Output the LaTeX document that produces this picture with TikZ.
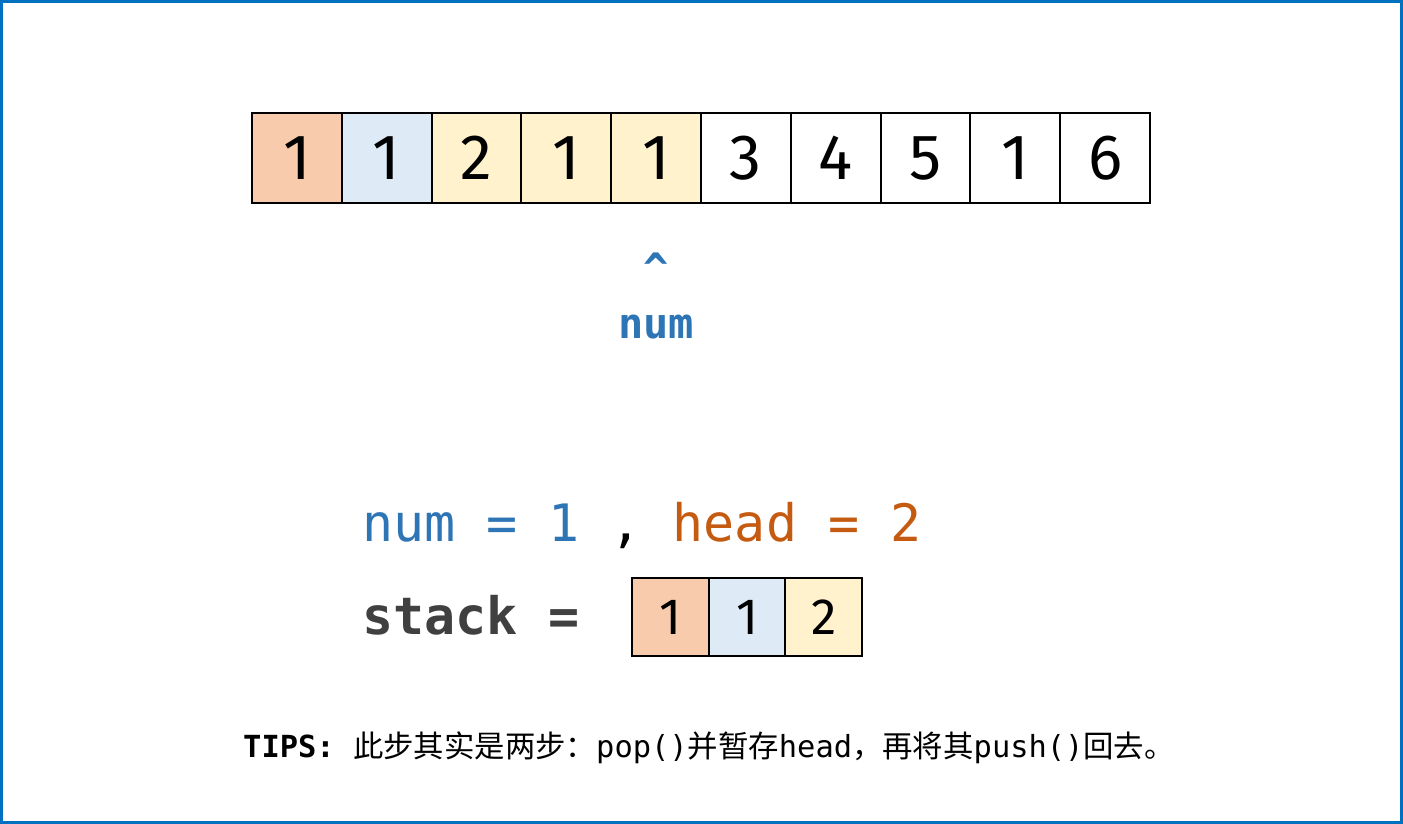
\documentclass[tikz,border=0pt]{standalone}
\usepackage{fontspec}
\setmainfont{Fira Sans}
\setmonofont{DejaVu Sans Mono}
\newfontfamily\cjkfont{Noto Sans CJK SC}
\usetikzlibrary{positioning}
\definecolor{stackFrame}{HTML}{0070C0}
\definecolor{stackSalmon}{HTML}{F8CBAD}
\definecolor{stackSky}{HTML}{DEEBF7}
\definecolor{stackCream}{HTML}{FFF2CC}
\definecolor{stackBlue}{HTML}{2E75B6}
\definecolor{stackOrange}{HTML}{C55A11}
\definecolor{stackInk}{HTML}{404040}
\tikzset{
  stackArrCell/.style={
    draw=black,
    line width=2pt,
    minimum width=89.8pt,
    minimum height=90pt,
    inner sep=0pt,
    outer sep=0pt,
    font=\fontsize{64}{64}\selectfont
  },
  stackBoxCell/.style={
    draw=black,
    line width=2pt,
    minimum width=76.7pt,
    minimum height=78pt,
    inner sep=0pt,
    outer sep=0pt,
    font=\fontsize{51}{51}\selectfont
  },
  stackCode/.style={
    anchor=base west,
    inner sep=0pt,
    font=\ttfamily\fontsize{51.6}{52}\selectfont
  },
  stackTips/.style={
    anchor=base west,
    inner sep=0pt,
    font=\fontsize{30.4}{36}\selectfont
  }
}

\begin{document}
\begin{tikzpicture}[x=1pt, y=-1pt]
\useasboundingbox (0,0) rectangle (1403,824);
\draw[stackFrame, line width=3pt] (1.5,1.5) rectangle (1401.5,822.5);

% array
\foreach \v/\c [count=\i from 0] in {1/stackSalmon,1/stackSky,2/stackCream,1/stackCream,1/stackCream,3/white,4/white,5/white,1/white,6/white}
  \node[stackArrCell, fill=\c, anchor=north west] (arr\i) at (252+89.8*\i,113) {\v};

% pointer
\node[anchor=base, inner sep=0pt, text=stackBlue,
  font=\ttfamily\bfseries\fontsize{42}{42}\selectfont] (caret) at (arr4.south |- 0,283) {\^{}};
\node[anchor=base, inner sep=0pt, text=stackBlue,
  font=\ttfamily\bfseries\fontsize{42}{42}\selectfont] (ptr) at (arr4.south |- 0,338) {num};

% state
\node[stackCode] (vars) at (362,541)
  {\textcolor{stackBlue}{num = 1} , \textcolor{stackOrange}{head = 2}};
\node[stackCode, text=stackInk, font=\ttfamily\bfseries\fontsize{51.6}{52}\selectfont] (slabel) at (362,634) {stack =};
\node[stackBoxCell, fill=stackSalmon, anchor=north west] (st0) at (632,578) {1};
\node[stackBoxCell, fill=stackSky, right=0pt of st0] (st1) {1};
\node[stackBoxCell, fill=stackCream, right=0pt of st1] (st2) {2};

% tips
\node[stackTips] (tips) at (243,757)
  {\ttfamily\bfseries TIPS: \mdseries\cjkfont 此步其实是两步：\ttfamily pop()\cjkfont 并暂存\ttfamily head\cjkfont ，再将其\ttfamily push()\cjkfont 回去。};
\end{tikzpicture}
\end{document}
